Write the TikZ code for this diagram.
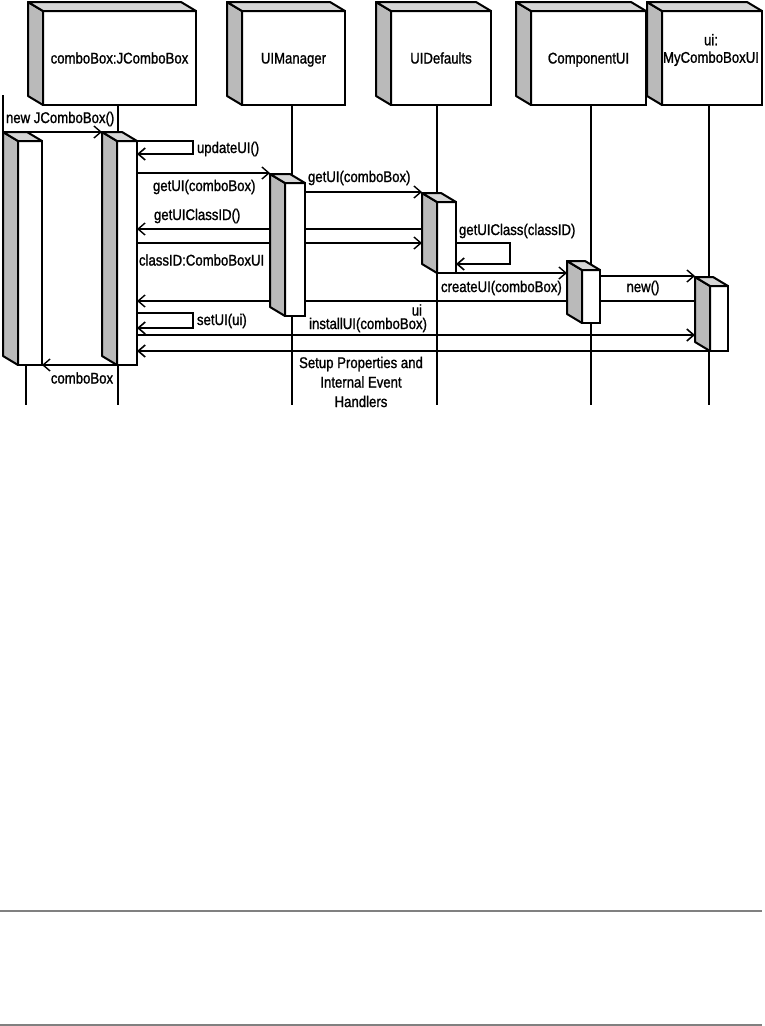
\documentclass[tikz,border=0pt]{standalone}
\usepackage{fontspec}
\setmainfont{Liberation Sans}[FakeStretch=0.85,FakeBold=1.2]
\usetikzlibrary{arrows.meta,backgrounds,calc}
\newcommand\depthfaces[1]{%
  \filldraw[sidef] (#1.north west) -- ++(-15,-9) -- ($(#1.south west)+(-15,-9)$) -- (#1.south west) -- cycle;
  \filldraw[topf] (#1.north west) -- ++(-15,-9) -- ($(#1.north east)+(-15,-9)$) -- (#1.north east) -- cycle;
  \coordinate (#1b) at ($(#1.north west)+(-15,-9)$);
}
\begin{document}
\begin{tikzpicture}[x=1pt,y=-1pt,
  font=\fontsize{15.5}{17.5}\selectfont,
  hdr/.style={draw, line width=2pt, fill=white, rectangle, inner sep=0pt, outer sep=0pt, minimum height=94, text height=11pt, text depth=0pt},
  act/.style={draw, line width=2pt, fill=white, rectangle, inner sep=0pt, outer sep=0pt},
  sidef/.style={fill=black!27, draw, line width=2pt, line join=round},
  topf/.style={fill=black!16, draw, line width=2pt, line join=round},
  life/.style={line width=1.3pt},
  msg/.style={line width=1.3pt, -{Straight Barb[length=7pt,width=12pt,line width=1.4pt]}},
  msgk/.style={line width=2pt, -{Straight Barb[length=7pt,width=12pt,line width=1.6pt]}},
  lbl/.style={inner sep=0pt, outer sep=0pt},
  rulel/.style={draw=black!50, line width=2pt}
]
\useasboundingbox (0,0) rectangle (764,1026);

% header boxes
\node[hdr, minimum width=153] (hCombo) at (119.5,58) {comboBox:JComboBox};
\depthfaces{hCombo}
\node[hdr, minimum width=103] (hMgr) at (293.5,58) {UIManager};
\depthfaces{hMgr}
\node[hdr, minimum width=100] (hDef) at (441,58) {UIDefaults};
\depthfaces{hDef}
\node[hdr, minimum width=115] (hComp) at (588.5,58) {ComponentUI};
\depthfaces{hComp}
\node[hdr, minimum width=100] (hUI) at (712,58) {};
\depthfaces{hUI}
\node[lbl, align=center] (hUItxt) at (711,50) {ui:\\MyComboBoxUI};

% activation boxes
\node[act, minimum width=24, minimum height=224] (a0) at (30,253) {};
\depthfaces{a0}
\node[act, minimum width=20, minimum height=224] (a1) at (127,253) {};
\depthfaces{a1}
\node[act, minimum width=20, minimum height=133] (a2) at (295,249.5) {};
\depthfaces{a2}
\node[act, minimum width=19, minimum height=71] (a3) at (446.5,237.5) {};
\depthfaces{a3}
\node[act, minimum width=18, minimum height=53] (a4) at (591,296.5) {};
\depthfaces{a4}
\node[act, minimum width=18, minimum height=65] (a5) at (719,318.5) {};
\depthfaces{a5}

% lifelines and messages behind the boxes
\begin{pgfonlayer}{background}
  \coordinate (caller) at (3,95);
  \coordinate (eCombo) at (118,405);
  \coordinate (eMgr) at (292,405);
  \coordinate (eDef) at (437,405);
  \coordinate (eComp) at (591,405);
  \coordinate (eUI) at (709,405);
  \coordinate (eLeft) at (26,405);
  \draw[life] (caller) -- (a0b);
  \draw[life] (a0.south -| eLeft) -- (eLeft);
  \draw[life] (hCombo.south -| eCombo) -- (eCombo);
  \draw[life] (hMgr.south -| eMgr) -- (eMgr);
  \draw[life] (hDef.south -| eDef) -- (eDef);
  \draw[life] (hComp.south -| eComp) -- (eComp);
  \draw[life] (hUI.south -| eUI) -- (eUI);

  \draw[msg] (a0b) -- (a1b);
  \draw[msgk] (a1.north east) -- ++(56,0) -- ++(0,13) -- (a1.east |- 0,154);
  \draw[msg] (a1.east |- 0,173) -- (a2b |- 0,173);
  \draw[msg] (a2.east |- 0,192) -- (a3b |- 0,192);
  \draw[msg] (a3b |- 0,229) -- (a1.east |- 0,229);
  \draw[msg] (a1.east |- 0,243) -- (a3b |- 0,243);
  \draw[msgk] (a3.east |- 0,243) -- ++(54,0) -- ++(0,21) -- (a3.east |- 0,264);
  \draw[msg] (a3.south west) -- (a4b |- a3.south);
  \draw[msg] (a4.east |- 0,276) -- (a5b |- 0,276);
  \draw[msg] (a5b |- 0,301) -- (a1.east |- 0,301);
  \draw[msgk] (a1.east |- 0,313) -- ++(56,0) -- ++(0,15) -- (a1.east |- 0,328);
  \draw[msgk] (a1.east |- 0,335) -- (a5b |- 0,335);
  \draw[msgk] (a5.south west) -- (a1.east |- a5.south);
  \draw[msg] (a1.south west) -- (a0.south east);
\end{pgfonlayer}

% labels
\node[lbl, anchor=west] (l1) at (6,119) {new JComboBox()};
\node[lbl, anchor=west] (l2) at (197,149) {updateUI()};
\node[lbl, anchor=west] (l3) at (153,187) {getUI(comboBox)};
\node[lbl, anchor=west] (l4) at (308,178) {getUI(comboBox)};
\node[lbl, anchor=west] (l5) at (154,216) {getUIClassID()};
\node[lbl, anchor=west] (l6) at (139,260) {classID:ComboBoxUI};
\node[lbl, anchor=west] (l7) at (459,231) {getUIClass(classID)};
\node[lbl, anchor=west] (l8) at (441,288) {createUI(comboBox)};
\node[lbl] (l9) at (643,288) {new()};
\node[lbl, anchor=east] (l10) at (422,310) {ui};
\node[lbl, anchor=west] (l11) at (197,321) {setUI(ui)};
\node[lbl, anchor=east] (l12) at (427,325) {installUI(comboBox)};
\node[lbl, align=center, font=\fontsize{15.5}{19.5}\selectfont] (l13) at (361,382) {Setup Properties and\\Internal Event\\Handlers};
\node[lbl] (l14) at (82,378) {comboBox};

% page rules
\draw[rulel] (0,911) -- (762,911);
\draw[rulel] (0,1024.5) -- (762,1024.5);
\end{tikzpicture}
\end{document}
